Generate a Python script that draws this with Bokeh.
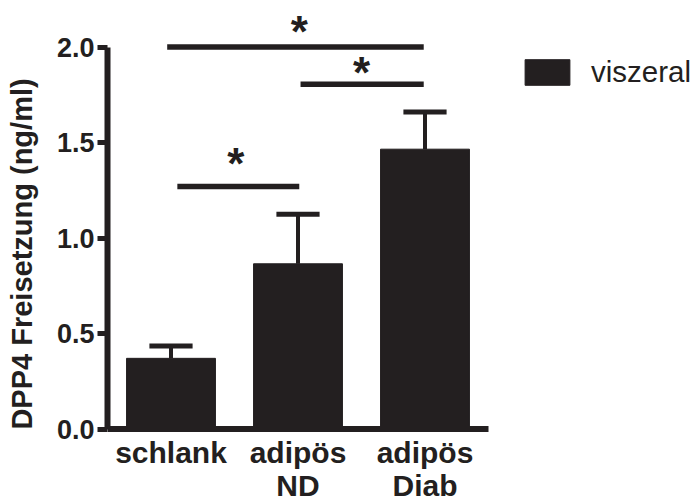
from bokeh.plotting import figure
from bokeh.models import (Range1d, FixedTicker, PrintfTickFormatter,
                          Legend, LegendItem)
from bokeh.core.properties import value
from bokeh.embed import file_html
from bokeh.resources import INLINE

# ---------------- data ----------------
categories = ["schlank", "adipös\nND", "adipös\nDiab"]
means = [0.37, 0.865, 1.465]
upper = [0.435, 1.125, 1.66]
series_name = "viszeral"
y_ticks = [0.0, 0.5, 1.0, 1.5, 2.0]
y_label = "DPP4 Freisetzung (ng/ml)"

# significance brackets (x in category index units)
sig_x0 = [-0.03, 1.02, 0.05]
sig_x1 = [1.99, 1.99, 1.01]
sig_y = [2.0, 1.805, 1.27]
star_x = [1.01, 1.5, 0.51]
star_y = [2.105, 1.895, 1.415]
star_text = ["*", "*", "*"]

# ---------------- style ----------------
DARK = "#231f20"
FONT = "Liberation Sans"
BAR_W = 0.7
CAP_HALF = 0.17
PX_PER_UNIT_Y = 191.0
PX_PER_CAT = 127.0

xs = list(range(len(categories)))
n = len(categories)

W, H = 696, 499
LEFT, TOP = 107, 8
frame_w = W - LEFT
frame_h = H - TOP
y0_px = 420.5  # distance of y=0 below frame top
y_end = y0_px / PX_PER_UNIT_Y
y_start = -(frame_h - y0_px) / PX_PER_UNIT_Y
x_start = -0.5
x_end = x_start + frame_w / PX_PER_CAT

p = figure(width=W, height=H,
           x_range=Range1d(x_start, x_end), y_range=Range1d(y_start, y_end),
           output_backend="svg", toolbar_location=None,
           x_axis_location=None, y_axis_location="left",
           min_border_left=LEFT, min_border_right=0,
           min_border_top=TOP, min_border_bottom=0)
p.grid.visible = False
p.outline_line_color = None
p.background_fill_color = "white"
p.border_fill_color = "white"

# error whiskers
p.segment(x0=xs, y0=means, x1=xs, y1=upper, line_width=4, line_color=DARK)
p.segment(x0=[x - CAP_HALF for x in xs], y0=upper,
          x1=[x + CAP_HALF for x in xs], y1=upper,
          line_width=5, line_color=DARK)

bars = p.vbar(x=xs, top=means, bottom=0, width=BAR_W,
              fill_color=DARK, line_color=DARK)

# x axis line at y = 0 spanning the category band
p.segment(x0=[-0.5], y0=[0], x1=[n - 0.5], y1=[0], line_width=6, line_color=DARK)

# x category labels
p.text(x=xs, y=[0] * n, text=categories,
       text_font=value(FONT), text_font_style="bold", text_font_size="30px",
       text_align="center", text_baseline="top", y_offset=7,
       text_line_height=1.0, text_color=DARK)

# significance lines and stars
p.segment(x0=sig_x0, y0=sig_y, x1=sig_x1, y1=sig_y,
          line_width=5.5, line_color=DARK)
p.text(x=star_x, y=star_y, text=star_text,
       text_font=value(FONT), text_font_style="bold", text_font_size="44px",
       text_align="center", text_baseline="alphabetic", y_offset=5,
       text_color=DARK)

# y axis
ya = p.yaxis[0]
ya.bounds = (0, 2)
ya.ticker = FixedTicker(ticks=y_ticks)
ya.formatter = PrintfTickFormatter(format="%.1f")
ya.axis_line_width = 6
ya.axis_line_color = DARK
ya.major_tick_line_width = 5
ya.major_tick_line_color = DARK
ya.major_tick_out = 10
ya.major_tick_in = 0
ya.minor_tick_line_color = None
ya.major_label_standoff = 3
ya.major_label_text_font = FONT
ya.major_label_text_font_style = "bold"
ya.major_label_text_font_size = "27px"
ya.major_label_text_color = DARK
ya.axis_label = y_label
ya.axis_label_text_font = FONT
ya.axis_label_text_font_style = "bold"
ya.axis_label_text_font_size = "29px"
ya.axis_label_text_color = DARK
ya.axis_label_standoff = 16

# legend
legend = Legend(items=[LegendItem(label=series_name, renderers=[bars])],
                location=(412, 410), padding=0, margin=0,
                border_line_color=None, background_fill_alpha=0,
                glyph_width=56, glyph_height=32, label_standoff=16,
                label_text_font=FONT, label_text_font_size="29.5px",
                label_text_color=DARK)
p.add_layout(legend)

open("out.html", "w").write(file_html(p, INLINE))
